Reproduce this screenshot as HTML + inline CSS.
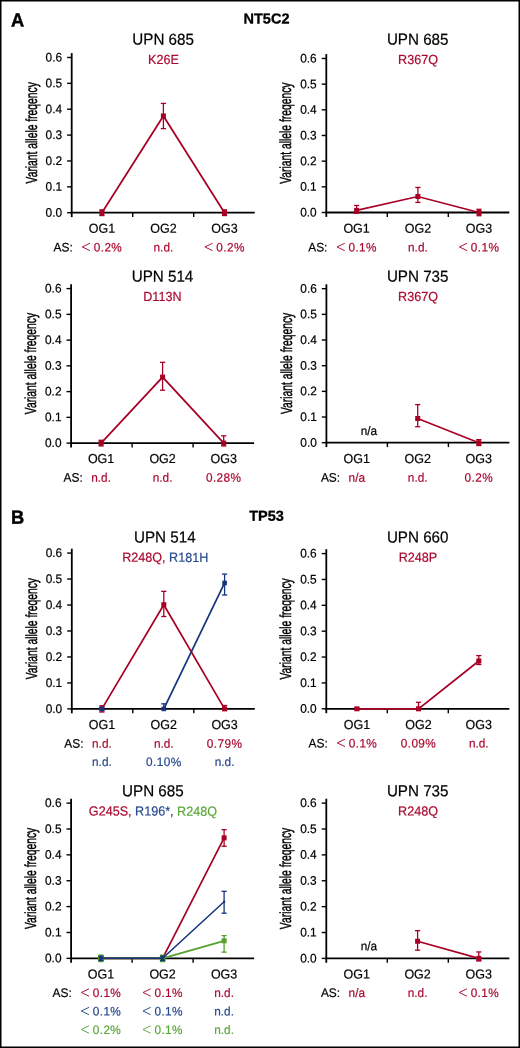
<!DOCTYPE html>
<html><head><meta charset="utf-8"><style>
html,body{margin:0;padding:0;background:#fff;}
body{width:520px;height:1048px;overflow:hidden;}
svg{display:block;font-family:"Liberation Sans", sans-serif;will-change:transform;text-rendering:geometricPrecision;}
</style></head><body>
<svg width="520" height="1048" viewBox="0 0 520 1048">
<rect x="0.75" y="0.75" width="518.5" height="1046.5" fill="#fff" stroke="#000" stroke-width="1.5"/>
<line x1="71.70" y1="53.08" x2="71.70" y2="217.10" stroke="#000" stroke-width="1.8" stroke-linecap="butt"/>
<line x1="67.10" y1="212.70" x2="71.70" y2="212.70" stroke="#000" stroke-width="1.4" stroke-linecap="butt"/>
<text transform="translate(62.10 216.70) rotate(0.08) scale(1 1.045)" font-size="11.9" text-anchor="end" fill="#000" font-weight="normal"  stroke="#000" stroke-width="0.2">0.0</text>
<line x1="67.10" y1="186.83" x2="71.70" y2="186.83" stroke="#000" stroke-width="1.4" stroke-linecap="butt"/>
<text transform="translate(62.10 190.83) rotate(0.08) scale(1 1.045)" font-size="11.9" text-anchor="end" fill="#000" font-weight="normal"  stroke="#000" stroke-width="0.2">0.1</text>
<line x1="67.10" y1="160.96" x2="71.70" y2="160.96" stroke="#000" stroke-width="1.4" stroke-linecap="butt"/>
<text transform="translate(62.10 164.96) rotate(0.08) scale(1 1.045)" font-size="11.9" text-anchor="end" fill="#000" font-weight="normal"  stroke="#000" stroke-width="0.2">0.2</text>
<line x1="67.10" y1="135.09" x2="71.70" y2="135.09" stroke="#000" stroke-width="1.4" stroke-linecap="butt"/>
<text transform="translate(62.10 139.09) rotate(0.08) scale(1 1.045)" font-size="11.9" text-anchor="end" fill="#000" font-weight="normal"  stroke="#000" stroke-width="0.2">0.3</text>
<line x1="67.10" y1="109.22" x2="71.70" y2="109.22" stroke="#000" stroke-width="1.4" stroke-linecap="butt"/>
<text transform="translate(62.10 113.22) rotate(0.08) scale(1 1.045)" font-size="11.9" text-anchor="end" fill="#000" font-weight="normal"  stroke="#000" stroke-width="0.2">0.4</text>
<line x1="67.10" y1="83.35" x2="71.70" y2="83.35" stroke="#000" stroke-width="1.4" stroke-linecap="butt"/>
<text transform="translate(62.10 87.35) rotate(0.08) scale(1 1.045)" font-size="11.9" text-anchor="end" fill="#000" font-weight="normal"  stroke="#000" stroke-width="0.2">0.5</text>
<line x1="67.10" y1="57.48" x2="71.70" y2="57.48" stroke="#000" stroke-width="1.4" stroke-linecap="butt"/>
<text transform="translate(62.10 61.48) rotate(0.08) scale(1 1.045)" font-size="11.9" text-anchor="end" fill="#000" font-weight="normal"  stroke="#000" stroke-width="0.2">0.6</text>
<line x1="70.80" y1="212.70" x2="254.70" y2="212.70" stroke="#000" stroke-width="1.8" stroke-linecap="butt"/>
<line x1="132.70" y1="212.70" x2="132.70" y2="217.10" stroke="#000" stroke-width="1.4" stroke-linecap="butt"/>
<line x1="193.70" y1="212.70" x2="193.70" y2="217.10" stroke="#000" stroke-width="1.4" stroke-linecap="butt"/>
<text transform="translate(36.80,132.79) rotate(-90) scale(0.645,1)" font-size="16" text-anchor="middle" stroke="#000" stroke-width="0.45">Variant allele freqency</text>
<text transform="translate(101.90 232.80) rotate(0.08) scale(1 1.045)" font-size="12.5" text-anchor="middle" fill="#000" font-weight="normal"  stroke="#000" stroke-width="0.2">OG1</text>
<text transform="translate(163.40 232.80) rotate(0.08) scale(1 1.045)" font-size="12.5" text-anchor="middle" fill="#000" font-weight="normal"  stroke="#000" stroke-width="0.2">OG2</text>
<text transform="translate(224.50 232.80) rotate(0.08) scale(1 1.045)" font-size="12.5" text-anchor="middle" fill="#000" font-weight="normal"  stroke="#000" stroke-width="0.2">OG3</text>
<text transform="translate(163.10 44.65) rotate(0.08) scale(1 1.045)" font-size="15.2" text-anchor="middle" fill="#000" font-weight="normal"  stroke="#000" stroke-width="0.2">UPN 685</text>
<text transform="translate(163.40 64.10) rotate(0.08) scale(1 1.045)" font-size="12.6" text-anchor="middle" fill="#000" font-weight="normal" stroke-width="0.2"><tspan fill="#ab0a30" stroke="#ab0a30">K26E</tspan></text>
<polyline points="101.90,212.70 163.40,115.95 224.50,212.70" fill="none" stroke="#a80024" stroke-width="1.7"/>
<line x1="101.90" y1="215.55" x2="101.90" y2="209.85" stroke="#a80024" stroke-width="1.3" stroke-linecap="butt"/>
<line x1="99.30" y1="215.55" x2="104.50" y2="215.55" stroke="#a80024" stroke-width="1.3" stroke-linecap="butt"/>
<line x1="99.30" y1="209.85" x2="104.50" y2="209.85" stroke="#a80024" stroke-width="1.3" stroke-linecap="butt"/>
<rect x="99.40" y="210.20" width="5" height="5" fill="#a80024"/>
<line x1="163.40" y1="128.62" x2="163.40" y2="103.40" stroke="#a80024" stroke-width="1.3" stroke-linecap="butt"/>
<line x1="160.80" y1="128.62" x2="166.00" y2="128.62" stroke="#a80024" stroke-width="1.3" stroke-linecap="butt"/>
<line x1="160.80" y1="103.40" x2="166.00" y2="103.40" stroke="#a80024" stroke-width="1.3" stroke-linecap="butt"/>
<rect x="160.90" y="113.45" width="5" height="5" fill="#a80024"/>
<line x1="224.50" y1="215.55" x2="224.50" y2="209.85" stroke="#a80024" stroke-width="1.3" stroke-linecap="butt"/>
<line x1="221.90" y1="215.55" x2="227.10" y2="215.55" stroke="#a80024" stroke-width="1.3" stroke-linecap="butt"/>
<line x1="221.90" y1="209.85" x2="227.10" y2="209.85" stroke="#a80024" stroke-width="1.3" stroke-linecap="butt"/>
<rect x="222.00" y="210.20" width="5" height="5" fill="#a80024"/>
<polyline points="90.00,243.25 82.30,246.95 90.00,250.65" fill="none" stroke="#ab0a30" stroke-width="0.95" stroke-linejoin="round"/>
<text x="82.30" y="251.55" font-size="11.8" fill="none">&lt;</text>
<text transform="translate(93.74 251.55) rotate(0.08) scale(1 1.045)" font-size="11.8" text-anchor="start" fill="#ab0a30" font-weight="normal" letter-spacing="0.4" stroke="#ab0a30" stroke-width="0.2">0.2%</text>
<text transform="translate(163.40 251.55) rotate(0.08) scale(1 1.045)" font-size="11.8" text-anchor="middle" fill="#ab0a30" font-weight="normal"  stroke="#ab0a30" stroke-width="0.2">n.d.</text>
<polyline points="212.60,243.25 204.90,246.95 212.60,250.65" fill="none" stroke="#ab0a30" stroke-width="0.95" stroke-linejoin="round"/>
<text x="204.90" y="251.55" font-size="11.8" fill="none">&lt;</text>
<text transform="translate(216.34 251.55) rotate(0.08) scale(1 1.045)" font-size="11.8" text-anchor="start" fill="#ab0a30" font-weight="normal" letter-spacing="0.4" stroke="#ab0a30" stroke-width="0.2">0.2%</text>
<text transform="translate(72.69 251.55) rotate(0.08) scale(1 1.045)" font-size="11.9" text-anchor="end" fill="#000" font-weight="normal"  stroke="#000" stroke-width="0.2">AS:</text>
<line x1="326.30" y1="54.08" x2="326.30" y2="216.90" stroke="#000" stroke-width="1.8" stroke-linecap="butt"/>
<line x1="321.70" y1="212.50" x2="326.30" y2="212.50" stroke="#000" stroke-width="1.4" stroke-linecap="butt"/>
<text transform="translate(316.70 216.50) rotate(0.08) scale(1 1.045)" font-size="11.9" text-anchor="end" fill="#000" font-weight="normal"  stroke="#000" stroke-width="0.2">0.0</text>
<line x1="321.70" y1="186.83" x2="326.30" y2="186.83" stroke="#000" stroke-width="1.4" stroke-linecap="butt"/>
<text transform="translate(316.70 190.83) rotate(0.08) scale(1 1.045)" font-size="11.9" text-anchor="end" fill="#000" font-weight="normal"  stroke="#000" stroke-width="0.2">0.1</text>
<line x1="321.70" y1="161.16" x2="326.30" y2="161.16" stroke="#000" stroke-width="1.4" stroke-linecap="butt"/>
<text transform="translate(316.70 165.16) rotate(0.08) scale(1 1.045)" font-size="11.9" text-anchor="end" fill="#000" font-weight="normal"  stroke="#000" stroke-width="0.2">0.2</text>
<line x1="321.70" y1="135.49" x2="326.30" y2="135.49" stroke="#000" stroke-width="1.4" stroke-linecap="butt"/>
<text transform="translate(316.70 139.49) rotate(0.08) scale(1 1.045)" font-size="11.9" text-anchor="end" fill="#000" font-weight="normal"  stroke="#000" stroke-width="0.2">0.3</text>
<line x1="321.70" y1="109.82" x2="326.30" y2="109.82" stroke="#000" stroke-width="1.4" stroke-linecap="butt"/>
<text transform="translate(316.70 113.82) rotate(0.08) scale(1 1.045)" font-size="11.9" text-anchor="end" fill="#000" font-weight="normal"  stroke="#000" stroke-width="0.2">0.4</text>
<line x1="321.70" y1="84.15" x2="326.30" y2="84.15" stroke="#000" stroke-width="1.4" stroke-linecap="butt"/>
<text transform="translate(316.70 88.15) rotate(0.08) scale(1 1.045)" font-size="11.9" text-anchor="end" fill="#000" font-weight="normal"  stroke="#000" stroke-width="0.2">0.5</text>
<line x1="321.70" y1="58.48" x2="326.30" y2="58.48" stroke="#000" stroke-width="1.4" stroke-linecap="butt"/>
<text transform="translate(316.70 62.48) rotate(0.08) scale(1 1.045)" font-size="11.9" text-anchor="end" fill="#000" font-weight="normal"  stroke="#000" stroke-width="0.2">0.6</text>
<line x1="325.40" y1="212.50" x2="509.30" y2="212.50" stroke="#000" stroke-width="1.8" stroke-linecap="butt"/>
<line x1="387.30" y1="212.50" x2="387.30" y2="216.90" stroke="#000" stroke-width="1.4" stroke-linecap="butt"/>
<line x1="448.30" y1="212.50" x2="448.30" y2="216.90" stroke="#000" stroke-width="1.4" stroke-linecap="butt"/>
<text transform="translate(291.40,133.19) rotate(-90) scale(0.645,1)" font-size="16" text-anchor="middle" stroke="#000" stroke-width="0.45">Variant allele freqency</text>
<text transform="translate(356.60 232.80) rotate(0.08) scale(1 1.045)" font-size="12.5" text-anchor="middle" fill="#000" font-weight="normal"  stroke="#000" stroke-width="0.2">OG1</text>
<text transform="translate(417.90 232.80) rotate(0.08) scale(1 1.045)" font-size="12.5" text-anchor="middle" fill="#000" font-weight="normal"  stroke="#000" stroke-width="0.2">OG2</text>
<text transform="translate(479.00 232.80) rotate(0.08) scale(1 1.045)" font-size="12.5" text-anchor="middle" fill="#000" font-weight="normal"  stroke="#000" stroke-width="0.2">OG3</text>
<text transform="translate(417.70 44.65) rotate(0.08) scale(1 1.045)" font-size="15.2" text-anchor="middle" fill="#000" font-weight="normal"  stroke="#000" stroke-width="0.2">UPN 685</text>
<text transform="translate(418.00 64.10) rotate(0.08) scale(1 1.045)" font-size="12.6" text-anchor="middle" fill="#000" font-weight="normal" stroke-width="0.2"><tspan fill="#ab0a30" stroke="#ab0a30">R367Q</tspan></text>
<polyline points="356.60,210.40 417.90,196.51 479.00,212.50" fill="none" stroke="#a80024" stroke-width="1.7"/>
<line x1="356.60" y1="213.27" x2="356.60" y2="205.49" stroke="#a80024" stroke-width="1.3" stroke-linecap="butt"/>
<line x1="354.00" y1="213.27" x2="359.20" y2="213.27" stroke="#a80024" stroke-width="1.3" stroke-linecap="butt"/>
<line x1="354.00" y1="205.49" x2="359.20" y2="205.49" stroke="#a80024" stroke-width="1.3" stroke-linecap="butt"/>
<rect x="354.10" y="207.90" width="5" height="5" fill="#a80024"/>
<line x1="417.90" y1="202.41" x2="417.90" y2="187.45" stroke="#a80024" stroke-width="1.3" stroke-linecap="butt"/>
<line x1="415.30" y1="202.41" x2="420.50" y2="202.41" stroke="#a80024" stroke-width="1.3" stroke-linecap="butt"/>
<line x1="415.30" y1="187.45" x2="420.50" y2="187.45" stroke="#a80024" stroke-width="1.3" stroke-linecap="butt"/>
<rect x="415.40" y="194.01" width="5" height="5" fill="#a80024"/>
<line x1="479.00" y1="215.71" x2="479.00" y2="209.29" stroke="#a80024" stroke-width="1.3" stroke-linecap="butt"/>
<line x1="476.40" y1="215.71" x2="481.60" y2="215.71" stroke="#a80024" stroke-width="1.3" stroke-linecap="butt"/>
<line x1="476.40" y1="209.29" x2="481.60" y2="209.29" stroke="#a80024" stroke-width="1.3" stroke-linecap="butt"/>
<rect x="476.50" y="210.00" width="5" height="5" fill="#a80024"/>
<polyline points="344.70,243.25 337.00,246.95 344.70,250.65" fill="none" stroke="#ab0a30" stroke-width="0.95" stroke-linejoin="round"/>
<text x="337.00" y="251.55" font-size="11.8" fill="none">&lt;</text>
<text transform="translate(348.44 251.55) rotate(0.08) scale(1 1.045)" font-size="11.8" text-anchor="start" fill="#ab0a30" font-weight="normal" letter-spacing="0.4" stroke="#ab0a30" stroke-width="0.2">0.1%</text>
<text transform="translate(417.90 251.55) rotate(0.08) scale(1 1.045)" font-size="11.8" text-anchor="middle" fill="#ab0a30" font-weight="normal"  stroke="#ab0a30" stroke-width="0.2">n.d.</text>
<polyline points="467.10,243.25 459.40,246.95 467.10,250.65" fill="none" stroke="#ab0a30" stroke-width="0.95" stroke-linejoin="round"/>
<text x="459.40" y="251.55" font-size="11.8" fill="none">&lt;</text>
<text transform="translate(470.84 251.55) rotate(0.08) scale(1 1.045)" font-size="11.8" text-anchor="start" fill="#ab0a30" font-weight="normal" letter-spacing="0.4" stroke="#ab0a30" stroke-width="0.2">0.1%</text>
<text transform="translate(327.39 251.55) rotate(0.08) scale(1 1.045)" font-size="11.9" text-anchor="end" fill="#000" font-weight="normal"  stroke="#000" stroke-width="0.2">AS:</text>
<line x1="71.10" y1="284.20" x2="71.10" y2="447.50" stroke="#000" stroke-width="1.8" stroke-linecap="butt"/>
<line x1="66.50" y1="443.10" x2="71.10" y2="443.10" stroke="#000" stroke-width="1.4" stroke-linecap="butt"/>
<text transform="translate(61.50 447.10) rotate(0.08) scale(1 1.045)" font-size="11.9" text-anchor="end" fill="#000" font-weight="normal"  stroke="#000" stroke-width="0.2">0.0</text>
<line x1="66.50" y1="417.35" x2="71.10" y2="417.35" stroke="#000" stroke-width="1.4" stroke-linecap="butt"/>
<text transform="translate(61.50 421.35) rotate(0.08) scale(1 1.045)" font-size="11.9" text-anchor="end" fill="#000" font-weight="normal"  stroke="#000" stroke-width="0.2">0.1</text>
<line x1="66.50" y1="391.60" x2="71.10" y2="391.60" stroke="#000" stroke-width="1.4" stroke-linecap="butt"/>
<text transform="translate(61.50 395.60) rotate(0.08) scale(1 1.045)" font-size="11.9" text-anchor="end" fill="#000" font-weight="normal"  stroke="#000" stroke-width="0.2">0.2</text>
<line x1="66.50" y1="365.85" x2="71.10" y2="365.85" stroke="#000" stroke-width="1.4" stroke-linecap="butt"/>
<text transform="translate(61.50 369.85) rotate(0.08) scale(1 1.045)" font-size="11.9" text-anchor="end" fill="#000" font-weight="normal"  stroke="#000" stroke-width="0.2">0.3</text>
<line x1="66.50" y1="340.10" x2="71.10" y2="340.10" stroke="#000" stroke-width="1.4" stroke-linecap="butt"/>
<text transform="translate(61.50 344.10) rotate(0.08) scale(1 1.045)" font-size="11.9" text-anchor="end" fill="#000" font-weight="normal"  stroke="#000" stroke-width="0.2">0.4</text>
<line x1="66.50" y1="314.35" x2="71.10" y2="314.35" stroke="#000" stroke-width="1.4" stroke-linecap="butt"/>
<text transform="translate(61.50 318.35) rotate(0.08) scale(1 1.045)" font-size="11.9" text-anchor="end" fill="#000" font-weight="normal"  stroke="#000" stroke-width="0.2">0.5</text>
<line x1="66.50" y1="288.60" x2="71.10" y2="288.60" stroke="#000" stroke-width="1.4" stroke-linecap="butt"/>
<text transform="translate(61.50 292.60) rotate(0.08) scale(1 1.045)" font-size="11.9" text-anchor="end" fill="#000" font-weight="normal"  stroke="#000" stroke-width="0.2">0.6</text>
<line x1="70.20" y1="443.10" x2="254.10" y2="443.10" stroke="#000" stroke-width="1.8" stroke-linecap="butt"/>
<line x1="132.10" y1="443.10" x2="132.10" y2="447.50" stroke="#000" stroke-width="1.4" stroke-linecap="butt"/>
<line x1="193.10" y1="443.10" x2="193.10" y2="447.50" stroke="#000" stroke-width="1.4" stroke-linecap="butt"/>
<text transform="translate(36.20,363.55) rotate(-90) scale(0.645,1)" font-size="16" text-anchor="middle" stroke="#000" stroke-width="0.45">Variant allele freqency</text>
<text transform="translate(101.10 462.90) rotate(0.08) scale(1 1.045)" font-size="12.5" text-anchor="middle" fill="#000" font-weight="normal"  stroke="#000" stroke-width="0.2">OG1</text>
<text transform="translate(162.60 462.90) rotate(0.08) scale(1 1.045)" font-size="12.5" text-anchor="middle" fill="#000" font-weight="normal"  stroke="#000" stroke-width="0.2">OG2</text>
<text transform="translate(223.70 462.90) rotate(0.08) scale(1 1.045)" font-size="12.5" text-anchor="middle" fill="#000" font-weight="normal"  stroke="#000" stroke-width="0.2">OG3</text>
<text transform="translate(162.50 281.65) rotate(0.08) scale(1 1.045)" font-size="15.2" text-anchor="middle" fill="#000" font-weight="normal"  stroke="#000" stroke-width="0.2">UPN 514</text>
<text transform="translate(162.40 301.00) rotate(0.08) scale(1 1.045)" font-size="12.6" text-anchor="middle" fill="#000" font-weight="normal" stroke-width="0.2"><tspan fill="#ab0a30" stroke="#ab0a30">D113N</tspan></text>
<polyline points="101.10,443.10 162.60,377.10 223.70,443.10" fill="none" stroke="#a80024" stroke-width="1.7"/>
<line x1="101.10" y1="445.93" x2="101.10" y2="440.27" stroke="#a80024" stroke-width="1.3" stroke-linecap="butt"/>
<line x1="98.50" y1="445.93" x2="103.70" y2="445.93" stroke="#a80024" stroke-width="1.3" stroke-linecap="butt"/>
<line x1="98.50" y1="440.27" x2="103.70" y2="440.27" stroke="#a80024" stroke-width="1.3" stroke-linecap="butt"/>
<rect x="98.60" y="440.60" width="5" height="5" fill="#a80024"/>
<line x1="162.60" y1="390.21" x2="162.60" y2="362.30" stroke="#a80024" stroke-width="1.3" stroke-linecap="butt"/>
<line x1="160.00" y1="390.21" x2="165.20" y2="390.21" stroke="#a80024" stroke-width="1.3" stroke-linecap="butt"/>
<line x1="160.00" y1="362.30" x2="165.20" y2="362.30" stroke="#a80024" stroke-width="1.3" stroke-linecap="butt"/>
<rect x="160.10" y="374.60" width="5" height="5" fill="#a80024"/>
<line x1="223.70" y1="445.93" x2="223.70" y2="435.81" stroke="#a80024" stroke-width="1.3" stroke-linecap="butt"/>
<line x1="221.10" y1="445.93" x2="226.30" y2="445.93" stroke="#a80024" stroke-width="1.3" stroke-linecap="butt"/>
<line x1="221.10" y1="435.81" x2="226.30" y2="435.81" stroke="#a80024" stroke-width="1.3" stroke-linecap="butt"/>
<rect x="221.20" y="440.60" width="5" height="5" fill="#a80024"/>
<text transform="translate(101.10 481.80) rotate(0.08) scale(1 1.045)" font-size="11.8" text-anchor="middle" fill="#ab0a30" font-weight="normal"  stroke="#ab0a30" stroke-width="0.2">n.d.</text>
<text transform="translate(162.60 481.80) rotate(0.08) scale(1 1.045)" font-size="11.8" text-anchor="middle" fill="#ab0a30" font-weight="normal"  stroke="#ab0a30" stroke-width="0.2">n.d.</text>
<text transform="translate(205.97 481.80) rotate(0.08) scale(1 1.045)" font-size="11.8" text-anchor="start" fill="#ab0a30" font-weight="normal" letter-spacing="0.4" stroke="#ab0a30" stroke-width="0.2">0.28%</text>
<text transform="translate(82.73 481.80) rotate(0.08) scale(1 1.045)" font-size="11.9" text-anchor="end" fill="#000" font-weight="normal"  stroke="#000" stroke-width="0.2">AS:</text>
<line x1="326.40" y1="284.28" x2="326.40" y2="447.10" stroke="#000" stroke-width="1.8" stroke-linecap="butt"/>
<line x1="321.80" y1="442.70" x2="326.40" y2="442.70" stroke="#000" stroke-width="1.4" stroke-linecap="butt"/>
<text transform="translate(316.80 446.70) rotate(0.08) scale(1 1.045)" font-size="11.9" text-anchor="end" fill="#000" font-weight="normal"  stroke="#000" stroke-width="0.2">0.0</text>
<line x1="321.80" y1="417.03" x2="326.40" y2="417.03" stroke="#000" stroke-width="1.4" stroke-linecap="butt"/>
<text transform="translate(316.80 421.03) rotate(0.08) scale(1 1.045)" font-size="11.9" text-anchor="end" fill="#000" font-weight="normal"  stroke="#000" stroke-width="0.2">0.1</text>
<line x1="321.80" y1="391.36" x2="326.40" y2="391.36" stroke="#000" stroke-width="1.4" stroke-linecap="butt"/>
<text transform="translate(316.80 395.36) rotate(0.08) scale(1 1.045)" font-size="11.9" text-anchor="end" fill="#000" font-weight="normal"  stroke="#000" stroke-width="0.2">0.2</text>
<line x1="321.80" y1="365.69" x2="326.40" y2="365.69" stroke="#000" stroke-width="1.4" stroke-linecap="butt"/>
<text transform="translate(316.80 369.69) rotate(0.08) scale(1 1.045)" font-size="11.9" text-anchor="end" fill="#000" font-weight="normal"  stroke="#000" stroke-width="0.2">0.3</text>
<line x1="321.80" y1="340.02" x2="326.40" y2="340.02" stroke="#000" stroke-width="1.4" stroke-linecap="butt"/>
<text transform="translate(316.80 344.02) rotate(0.08) scale(1 1.045)" font-size="11.9" text-anchor="end" fill="#000" font-weight="normal"  stroke="#000" stroke-width="0.2">0.4</text>
<line x1="321.80" y1="314.35" x2="326.40" y2="314.35" stroke="#000" stroke-width="1.4" stroke-linecap="butt"/>
<text transform="translate(316.80 318.35) rotate(0.08) scale(1 1.045)" font-size="11.9" text-anchor="end" fill="#000" font-weight="normal"  stroke="#000" stroke-width="0.2">0.5</text>
<line x1="321.80" y1="288.68" x2="326.40" y2="288.68" stroke="#000" stroke-width="1.4" stroke-linecap="butt"/>
<text transform="translate(316.80 292.68) rotate(0.08) scale(1 1.045)" font-size="11.9" text-anchor="end" fill="#000" font-weight="normal"  stroke="#000" stroke-width="0.2">0.6</text>
<line x1="325.50" y1="442.70" x2="509.40" y2="442.70" stroke="#000" stroke-width="1.8" stroke-linecap="butt"/>
<line x1="387.40" y1="442.70" x2="387.40" y2="447.10" stroke="#000" stroke-width="1.4" stroke-linecap="butt"/>
<line x1="448.40" y1="442.70" x2="448.40" y2="447.10" stroke="#000" stroke-width="1.4" stroke-linecap="butt"/>
<text transform="translate(291.50,363.39) rotate(-90) scale(0.645,1)" font-size="16" text-anchor="middle" stroke="#000" stroke-width="0.45">Variant allele freqency</text>
<text transform="translate(356.80 462.90) rotate(0.08) scale(1 1.045)" font-size="12.5" text-anchor="middle" fill="#000" font-weight="normal"  stroke="#000" stroke-width="0.2">OG1</text>
<text transform="translate(417.70 462.90) rotate(0.08) scale(1 1.045)" font-size="12.5" text-anchor="middle" fill="#000" font-weight="normal"  stroke="#000" stroke-width="0.2">OG2</text>
<text transform="translate(478.80 462.90) rotate(0.08) scale(1 1.045)" font-size="12.5" text-anchor="middle" fill="#000" font-weight="normal"  stroke="#000" stroke-width="0.2">OG3</text>
<text transform="translate(417.70 281.65) rotate(0.08) scale(1 1.045)" font-size="15.2" text-anchor="middle" fill="#000" font-weight="normal"  stroke="#000" stroke-width="0.2">UPN 735</text>
<text transform="translate(418.00 301.00) rotate(0.08) scale(1 1.045)" font-size="12.6" text-anchor="middle" fill="#000" font-weight="normal" stroke-width="0.2"><tspan fill="#ab0a30" stroke="#ab0a30">R367Q</tspan></text>
<polyline points="417.70,418.49 478.80,442.70" fill="none" stroke="#a80024" stroke-width="1.7"/>
<line x1="417.70" y1="426.71" x2="417.70" y2="404.61" stroke="#a80024" stroke-width="1.3" stroke-linecap="butt"/>
<line x1="415.10" y1="426.71" x2="420.30" y2="426.71" stroke="#a80024" stroke-width="1.3" stroke-linecap="butt"/>
<line x1="415.10" y1="404.61" x2="420.30" y2="404.61" stroke="#a80024" stroke-width="1.3" stroke-linecap="butt"/>
<rect x="415.20" y="415.99" width="5" height="5" fill="#a80024"/>
<line x1="478.80" y1="445.52" x2="478.80" y2="439.59" stroke="#a80024" stroke-width="1.3" stroke-linecap="butt"/>
<line x1="476.20" y1="445.52" x2="481.40" y2="445.52" stroke="#a80024" stroke-width="1.3" stroke-linecap="butt"/>
<line x1="476.20" y1="439.59" x2="481.40" y2="439.59" stroke="#a80024" stroke-width="1.3" stroke-linecap="butt"/>
<rect x="476.30" y="440.20" width="5" height="5" fill="#a80024"/>
<text transform="translate(368.90 435.00) rotate(0.08) scale(1 1.045)" font-size="11.8" text-anchor="middle" fill="#000" font-weight="normal"  stroke="#000" stroke-width="0.2">n/a</text>
<text transform="translate(356.80 481.80) rotate(0.08) scale(1 1.045)" font-size="11.8" text-anchor="middle" fill="#ab0a30" font-weight="normal"  stroke="#ab0a30" stroke-width="0.2">n/a</text>
<text transform="translate(417.70 481.80) rotate(0.08) scale(1 1.045)" font-size="11.8" text-anchor="middle" fill="#ab0a30" font-weight="normal"  stroke="#ab0a30" stroke-width="0.2">n.d.</text>
<text transform="translate(464.55 481.80) rotate(0.08) scale(1 1.045)" font-size="11.8" text-anchor="start" fill="#ab0a30" font-weight="normal" letter-spacing="0.4" stroke="#ab0a30" stroke-width="0.2">0.2%</text>
<text transform="translate(340.07 481.80) rotate(0.08) scale(1 1.045)" font-size="11.9" text-anchor="end" fill="#000" font-weight="normal"  stroke="#000" stroke-width="0.2">AS:</text>
<line x1="71.80" y1="548.68" x2="71.80" y2="713.30" stroke="#000" stroke-width="1.8" stroke-linecap="butt"/>
<line x1="67.20" y1="708.90" x2="71.80" y2="708.90" stroke="#000" stroke-width="1.4" stroke-linecap="butt"/>
<text transform="translate(62.20 712.90) rotate(0.08) scale(1 1.045)" font-size="11.9" text-anchor="end" fill="#000" font-weight="normal"  stroke="#000" stroke-width="0.2">0.0</text>
<line x1="67.20" y1="682.93" x2="71.80" y2="682.93" stroke="#000" stroke-width="1.4" stroke-linecap="butt"/>
<text transform="translate(62.20 686.93) rotate(0.08) scale(1 1.045)" font-size="11.9" text-anchor="end" fill="#000" font-weight="normal"  stroke="#000" stroke-width="0.2">0.1</text>
<line x1="67.20" y1="656.96" x2="71.80" y2="656.96" stroke="#000" stroke-width="1.4" stroke-linecap="butt"/>
<text transform="translate(62.20 660.96) rotate(0.08) scale(1 1.045)" font-size="11.9" text-anchor="end" fill="#000" font-weight="normal"  stroke="#000" stroke-width="0.2">0.2</text>
<line x1="67.20" y1="630.99" x2="71.80" y2="630.99" stroke="#000" stroke-width="1.4" stroke-linecap="butt"/>
<text transform="translate(62.20 634.99) rotate(0.08) scale(1 1.045)" font-size="11.9" text-anchor="end" fill="#000" font-weight="normal"  stroke="#000" stroke-width="0.2">0.3</text>
<line x1="67.20" y1="605.02" x2="71.80" y2="605.02" stroke="#000" stroke-width="1.4" stroke-linecap="butt"/>
<text transform="translate(62.20 609.02) rotate(0.08) scale(1 1.045)" font-size="11.9" text-anchor="end" fill="#000" font-weight="normal"  stroke="#000" stroke-width="0.2">0.4</text>
<line x1="67.20" y1="579.05" x2="71.80" y2="579.05" stroke="#000" stroke-width="1.4" stroke-linecap="butt"/>
<text transform="translate(62.20 583.05) rotate(0.08) scale(1 1.045)" font-size="11.9" text-anchor="end" fill="#000" font-weight="normal"  stroke="#000" stroke-width="0.2">0.5</text>
<line x1="67.20" y1="553.08" x2="71.80" y2="553.08" stroke="#000" stroke-width="1.4" stroke-linecap="butt"/>
<text transform="translate(62.20 557.08) rotate(0.08) scale(1 1.045)" font-size="11.9" text-anchor="end" fill="#000" font-weight="normal"  stroke="#000" stroke-width="0.2">0.6</text>
<line x1="70.90" y1="708.90" x2="254.80" y2="708.90" stroke="#000" stroke-width="1.8" stroke-linecap="butt"/>
<line x1="132.80" y1="708.90" x2="132.80" y2="713.30" stroke="#000" stroke-width="1.4" stroke-linecap="butt"/>
<line x1="193.80" y1="708.90" x2="193.80" y2="713.30" stroke="#000" stroke-width="1.4" stroke-linecap="butt"/>
<text transform="translate(36.90,628.69) rotate(-90) scale(0.645,1)" font-size="16" text-anchor="middle" stroke="#000" stroke-width="0.45">Variant allele freqency</text>
<text transform="translate(101.90 729.05) rotate(0.08) scale(1 1.045)" font-size="12.5" text-anchor="middle" fill="#000" font-weight="normal"  stroke="#000" stroke-width="0.2">OG1</text>
<text transform="translate(163.80 729.05) rotate(0.08) scale(1 1.045)" font-size="12.5" text-anchor="middle" fill="#000" font-weight="normal"  stroke="#000" stroke-width="0.2">OG2</text>
<text transform="translate(224.60 729.05) rotate(0.08) scale(1 1.045)" font-size="12.5" text-anchor="middle" fill="#000" font-weight="normal"  stroke="#000" stroke-width="0.2">OG3</text>
<text transform="translate(164.80 542.50) rotate(0.08) scale(1 1.045)" font-size="15.2" text-anchor="middle" fill="#000" font-weight="normal"  stroke="#000" stroke-width="0.2">UPN 514</text>
<text transform="translate(165.20 561.85) rotate(0.08) scale(1 1.045)" font-size="12.6" text-anchor="middle" fill="#000" font-weight="normal" stroke-width="0.2"><tspan fill="#ab0a30" stroke="#ab0a30">R248Q,</tspan><tspan fill="#284a8c" stroke="#284a8c"> R181H</tspan></text>
<polyline points="101.90,708.90 163.80,604.71 224.60,708.90" fill="none" stroke="#a80024" stroke-width="1.7"/>
<line x1="101.90" y1="712.02" x2="101.90" y2="705.78" stroke="#a80024" stroke-width="1.3" stroke-linecap="butt"/>
<line x1="99.30" y1="712.02" x2="104.50" y2="712.02" stroke="#a80024" stroke-width="1.3" stroke-linecap="butt"/>
<line x1="99.30" y1="705.78" x2="104.50" y2="705.78" stroke="#a80024" stroke-width="1.3" stroke-linecap="butt"/>
<rect x="99.40" y="706.40" width="5" height="5" fill="#a80024"/>
<line x1="163.80" y1="616.50" x2="163.80" y2="591.33" stroke="#a80024" stroke-width="1.3" stroke-linecap="butt"/>
<line x1="161.20" y1="616.50" x2="166.40" y2="616.50" stroke="#a80024" stroke-width="1.3" stroke-linecap="butt"/>
<line x1="161.20" y1="591.33" x2="166.40" y2="591.33" stroke="#a80024" stroke-width="1.3" stroke-linecap="butt"/>
<rect x="161.30" y="602.21" width="5" height="5" fill="#a80024"/>
<line x1="224.60" y1="710.20" x2="224.60" y2="705.52" stroke="#a80024" stroke-width="1.3" stroke-linecap="butt"/>
<line x1="222.00" y1="710.20" x2="227.20" y2="710.20" stroke="#a80024" stroke-width="1.3" stroke-linecap="butt"/>
<line x1="222.00" y1="705.52" x2="227.20" y2="705.52" stroke="#a80024" stroke-width="1.3" stroke-linecap="butt"/>
<rect x="222.10" y="706.40" width="5" height="5" fill="#a80024"/>
<polyline points="163.80,708.90 224.60,582.95" fill="none" stroke="#15347c" stroke-width="1.7"/>
<line x1="101.90" y1="709.94" x2="101.90" y2="707.86" stroke="#15347c" stroke-width="1.3" stroke-linecap="butt"/>
<line x1="99.30" y1="709.94" x2="104.50" y2="709.94" stroke="#15347c" stroke-width="1.3" stroke-linecap="butt"/>
<line x1="99.30" y1="707.86" x2="104.50" y2="707.86" stroke="#15347c" stroke-width="1.3" stroke-linecap="butt"/>
<rect x="99.60" y="706.60" width="4.6" height="4.6" fill="#15347c"/>
<line x1="163.80" y1="709.16" x2="163.80" y2="703.84" stroke="#15347c" stroke-width="1.3" stroke-linecap="butt"/>
<line x1="161.20" y1="709.16" x2="166.40" y2="709.16" stroke="#15347c" stroke-width="1.3" stroke-linecap="butt"/>
<line x1="161.20" y1="703.84" x2="166.40" y2="703.84" stroke="#15347c" stroke-width="1.3" stroke-linecap="butt"/>
<rect x="161.50" y="706.60" width="4.6" height="4.6" fill="#15347c"/>
<line x1="224.60" y1="595.02" x2="224.60" y2="574.12" stroke="#15347c" stroke-width="1.3" stroke-linecap="butt"/>
<line x1="222.00" y1="595.02" x2="227.20" y2="595.02" stroke="#15347c" stroke-width="1.3" stroke-linecap="butt"/>
<line x1="222.00" y1="574.12" x2="227.20" y2="574.12" stroke="#15347c" stroke-width="1.3" stroke-linecap="butt"/>
<rect x="222.30" y="580.65" width="4.6" height="4.6" fill="#15347c"/>
<text transform="translate(101.90 747.80) rotate(0.08) scale(1 1.045)" font-size="11.8" text-anchor="middle" fill="#ab0a30" font-weight="normal"  stroke="#ab0a30" stroke-width="0.2">n.d.</text>
<text transform="translate(163.80 747.80) rotate(0.08) scale(1 1.045)" font-size="11.8" text-anchor="middle" fill="#ab0a30" font-weight="normal"  stroke="#ab0a30" stroke-width="0.2">n.d.</text>
<text transform="translate(206.87 747.80) rotate(0.08) scale(1 1.045)" font-size="11.8" text-anchor="start" fill="#ab0a30" font-weight="normal" letter-spacing="0.4" stroke="#ab0a30" stroke-width="0.2">0.79%</text>
<text transform="translate(83.53 747.80) rotate(0.08) scale(1 1.045)" font-size="11.9" text-anchor="end" fill="#000" font-weight="normal"  stroke="#000" stroke-width="0.2">AS:</text>
<text transform="translate(101.90 766.10) rotate(0.08) scale(1 1.045)" font-size="11.8" text-anchor="middle" fill="#284a8c" font-weight="normal"  stroke="#284a8c" stroke-width="0.2">n.d.</text>
<text transform="translate(146.07 766.10) rotate(0.08) scale(1 1.045)" font-size="11.8" text-anchor="start" fill="#284a8c" font-weight="normal" letter-spacing="0.4" stroke="#284a8c" stroke-width="0.2">0.10%</text>
<text transform="translate(224.60 766.10) rotate(0.08) scale(1 1.045)" font-size="11.8" text-anchor="middle" fill="#284a8c" font-weight="normal"  stroke="#284a8c" stroke-width="0.2">n.d.</text>
<line x1="326.30" y1="549.18" x2="326.30" y2="713.20" stroke="#000" stroke-width="1.8" stroke-linecap="butt"/>
<line x1="321.70" y1="708.80" x2="326.30" y2="708.80" stroke="#000" stroke-width="1.4" stroke-linecap="butt"/>
<text transform="translate(316.70 712.80) rotate(0.08) scale(1 1.045)" font-size="11.9" text-anchor="end" fill="#000" font-weight="normal"  stroke="#000" stroke-width="0.2">0.0</text>
<line x1="321.70" y1="682.93" x2="326.30" y2="682.93" stroke="#000" stroke-width="1.4" stroke-linecap="butt"/>
<text transform="translate(316.70 686.93) rotate(0.08) scale(1 1.045)" font-size="11.9" text-anchor="end" fill="#000" font-weight="normal"  stroke="#000" stroke-width="0.2">0.1</text>
<line x1="321.70" y1="657.06" x2="326.30" y2="657.06" stroke="#000" stroke-width="1.4" stroke-linecap="butt"/>
<text transform="translate(316.70 661.06) rotate(0.08) scale(1 1.045)" font-size="11.9" text-anchor="end" fill="#000" font-weight="normal"  stroke="#000" stroke-width="0.2">0.2</text>
<line x1="321.70" y1="631.19" x2="326.30" y2="631.19" stroke="#000" stroke-width="1.4" stroke-linecap="butt"/>
<text transform="translate(316.70 635.19) rotate(0.08) scale(1 1.045)" font-size="11.9" text-anchor="end" fill="#000" font-weight="normal"  stroke="#000" stroke-width="0.2">0.3</text>
<line x1="321.70" y1="605.32" x2="326.30" y2="605.32" stroke="#000" stroke-width="1.4" stroke-linecap="butt"/>
<text transform="translate(316.70 609.32) rotate(0.08) scale(1 1.045)" font-size="11.9" text-anchor="end" fill="#000" font-weight="normal"  stroke="#000" stroke-width="0.2">0.4</text>
<line x1="321.70" y1="579.45" x2="326.30" y2="579.45" stroke="#000" stroke-width="1.4" stroke-linecap="butt"/>
<text transform="translate(316.70 583.45) rotate(0.08) scale(1 1.045)" font-size="11.9" text-anchor="end" fill="#000" font-weight="normal"  stroke="#000" stroke-width="0.2">0.5</text>
<line x1="321.70" y1="553.58" x2="326.30" y2="553.58" stroke="#000" stroke-width="1.4" stroke-linecap="butt"/>
<text transform="translate(316.70 557.58) rotate(0.08) scale(1 1.045)" font-size="11.9" text-anchor="end" fill="#000" font-weight="normal"  stroke="#000" stroke-width="0.2">0.6</text>
<line x1="325.40" y1="708.80" x2="509.30" y2="708.80" stroke="#000" stroke-width="1.8" stroke-linecap="butt"/>
<line x1="387.30" y1="708.80" x2="387.30" y2="713.20" stroke="#000" stroke-width="1.4" stroke-linecap="butt"/>
<line x1="448.30" y1="708.80" x2="448.30" y2="713.20" stroke="#000" stroke-width="1.4" stroke-linecap="butt"/>
<text transform="translate(291.40,628.89) rotate(-90) scale(0.645,1)" font-size="16" text-anchor="middle" stroke="#000" stroke-width="0.45">Variant allele freqency</text>
<text transform="translate(356.90 729.00) rotate(0.08) scale(1 1.045)" font-size="12.5" text-anchor="middle" fill="#000" font-weight="normal"  stroke="#000" stroke-width="0.2">OG1</text>
<text transform="translate(418.50 729.00) rotate(0.08) scale(1 1.045)" font-size="12.5" text-anchor="middle" fill="#000" font-weight="normal"  stroke="#000" stroke-width="0.2">OG2</text>
<text transform="translate(478.80 729.00) rotate(0.08) scale(1 1.045)" font-size="12.5" text-anchor="middle" fill="#000" font-weight="normal"  stroke="#000" stroke-width="0.2">OG3</text>
<text transform="translate(417.70 542.50) rotate(0.08) scale(1 1.045)" font-size="15.2" text-anchor="middle" fill="#000" font-weight="normal"  stroke="#000" stroke-width="0.2">UPN 660</text>
<text transform="translate(418.00 561.85) rotate(0.08) scale(1 1.045)" font-size="12.6" text-anchor="middle" fill="#000" font-weight="normal" stroke-width="0.2"><tspan fill="#ab0a30" stroke="#ab0a30">R248P</tspan></text>
<polyline points="356.90,708.80 418.50,708.80 478.80,660.99" fill="none" stroke="#a80024" stroke-width="1.7"/>
<line x1="356.90" y1="709.83" x2="356.90" y2="707.77" stroke="#a80024" stroke-width="1.3" stroke-linecap="butt"/>
<line x1="354.30" y1="709.83" x2="359.50" y2="709.83" stroke="#a80024" stroke-width="1.3" stroke-linecap="butt"/>
<line x1="354.30" y1="707.77" x2="359.50" y2="707.77" stroke="#a80024" stroke-width="1.3" stroke-linecap="butt"/>
<rect x="354.40" y="706.30" width="5" height="5" fill="#a80024"/>
<line x1="418.50" y1="709.83" x2="418.50" y2="702.31" stroke="#a80024" stroke-width="1.3" stroke-linecap="butt"/>
<line x1="415.90" y1="709.83" x2="421.10" y2="709.83" stroke="#a80024" stroke-width="1.3" stroke-linecap="butt"/>
<line x1="415.90" y1="702.31" x2="421.10" y2="702.31" stroke="#a80024" stroke-width="1.3" stroke-linecap="butt"/>
<rect x="416.00" y="706.30" width="5" height="5" fill="#a80024"/>
<line x1="478.80" y1="664.51" x2="478.80" y2="655.61" stroke="#a80024" stroke-width="1.3" stroke-linecap="butt"/>
<line x1="476.20" y1="664.51" x2="481.40" y2="664.51" stroke="#a80024" stroke-width="1.3" stroke-linecap="butt"/>
<line x1="476.20" y1="655.61" x2="481.40" y2="655.61" stroke="#a80024" stroke-width="1.3" stroke-linecap="butt"/>
<rect x="476.30" y="658.49" width="5" height="5" fill="#a80024"/>
<polyline points="345.00,739.20 337.30,742.90 345.00,746.60" fill="none" stroke="#ab0a30" stroke-width="0.95" stroke-linejoin="round"/>
<text x="337.30" y="747.50" font-size="11.8" fill="none">&lt;</text>
<text transform="translate(348.74 747.50) rotate(0.08) scale(1 1.045)" font-size="11.8" text-anchor="start" fill="#ab0a30" font-weight="normal" letter-spacing="0.4" stroke="#ab0a30" stroke-width="0.2">0.1%</text>
<text transform="translate(400.77 747.50) rotate(0.08) scale(1 1.045)" font-size="11.8" text-anchor="start" fill="#ab0a30" font-weight="normal" letter-spacing="0.4" stroke="#ab0a30" stroke-width="0.2">0.09%</text>
<text transform="translate(478.80 747.50) rotate(0.08) scale(1 1.045)" font-size="11.8" text-anchor="middle" fill="#ab0a30" font-weight="normal"  stroke="#ab0a30" stroke-width="0.2">n.d.</text>
<text transform="translate(327.69 747.50) rotate(0.08) scale(1 1.045)" font-size="11.9" text-anchor="end" fill="#000" font-weight="normal"  stroke="#000" stroke-width="0.2">AS:</text>
<line x1="71.10" y1="798.70" x2="71.10" y2="962.75" stroke="#000" stroke-width="1.8" stroke-linecap="butt"/>
<line x1="66.50" y1="958.35" x2="71.10" y2="958.35" stroke="#000" stroke-width="1.4" stroke-linecap="butt"/>
<text transform="translate(61.50 962.35) rotate(0.08) scale(1 1.045)" font-size="11.9" text-anchor="end" fill="#000" font-weight="normal"  stroke="#000" stroke-width="0.2">0.0</text>
<line x1="66.50" y1="932.48" x2="71.10" y2="932.48" stroke="#000" stroke-width="1.4" stroke-linecap="butt"/>
<text transform="translate(61.50 936.48) rotate(0.08) scale(1 1.045)" font-size="11.9" text-anchor="end" fill="#000" font-weight="normal"  stroke="#000" stroke-width="0.2">0.1</text>
<line x1="66.50" y1="906.60" x2="71.10" y2="906.60" stroke="#000" stroke-width="1.4" stroke-linecap="butt"/>
<text transform="translate(61.50 910.60) rotate(0.08) scale(1 1.045)" font-size="11.9" text-anchor="end" fill="#000" font-weight="normal"  stroke="#000" stroke-width="0.2">0.2</text>
<line x1="66.50" y1="880.73" x2="71.10" y2="880.73" stroke="#000" stroke-width="1.4" stroke-linecap="butt"/>
<text transform="translate(61.50 884.73) rotate(0.08) scale(1 1.045)" font-size="11.9" text-anchor="end" fill="#000" font-weight="normal"  stroke="#000" stroke-width="0.2">0.3</text>
<line x1="66.50" y1="854.85" x2="71.10" y2="854.85" stroke="#000" stroke-width="1.4" stroke-linecap="butt"/>
<text transform="translate(61.50 858.85) rotate(0.08) scale(1 1.045)" font-size="11.9" text-anchor="end" fill="#000" font-weight="normal"  stroke="#000" stroke-width="0.2">0.4</text>
<line x1="66.50" y1="828.98" x2="71.10" y2="828.98" stroke="#000" stroke-width="1.4" stroke-linecap="butt"/>
<text transform="translate(61.50 832.98) rotate(0.08) scale(1 1.045)" font-size="11.9" text-anchor="end" fill="#000" font-weight="normal"  stroke="#000" stroke-width="0.2">0.5</text>
<line x1="66.50" y1="803.10" x2="71.10" y2="803.10" stroke="#000" stroke-width="1.4" stroke-linecap="butt"/>
<text transform="translate(61.50 807.10) rotate(0.08) scale(1 1.045)" font-size="11.9" text-anchor="end" fill="#000" font-weight="normal"  stroke="#000" stroke-width="0.2">0.6</text>
<line x1="70.20" y1="958.35" x2="254.10" y2="958.35" stroke="#000" stroke-width="1.8" stroke-linecap="butt"/>
<line x1="132.10" y1="958.35" x2="132.10" y2="962.75" stroke="#000" stroke-width="1.4" stroke-linecap="butt"/>
<line x1="193.10" y1="958.35" x2="193.10" y2="962.75" stroke="#000" stroke-width="1.4" stroke-linecap="butt"/>
<text transform="translate(36.20,878.43) rotate(-90) scale(0.645,1)" font-size="16" text-anchor="middle" stroke="#000" stroke-width="0.45">Variant allele freqency</text>
<text transform="translate(100.90 978.50) rotate(0.08) scale(1 1.045)" font-size="12.5" text-anchor="middle" fill="#000" font-weight="normal"  stroke="#000" stroke-width="0.2">OG1</text>
<text transform="translate(162.60 978.50) rotate(0.08) scale(1 1.045)" font-size="12.5" text-anchor="middle" fill="#000" font-weight="normal"  stroke="#000" stroke-width="0.2">OG2</text>
<text transform="translate(224.10 978.50) rotate(0.08) scale(1 1.045)" font-size="12.5" text-anchor="middle" fill="#000" font-weight="normal"  stroke="#000" stroke-width="0.2">OG3</text>
<text transform="translate(152.90 796.30) rotate(0.08) scale(1 1.045)" font-size="15.2" text-anchor="middle" fill="#000" font-weight="normal"  stroke="#000" stroke-width="0.2">UPN 685</text>
<text transform="translate(152.90 815.60) rotate(0.08) scale(1 1.045)" font-size="12.6" text-anchor="middle" fill="#000" font-weight="normal" stroke-width="0.2"><tspan fill="#ab0a30" stroke="#ab0a30">G245S,</tspan><tspan fill="#284a8c" stroke="#284a8c"> R196*,</tspan><tspan fill="#5aa83a" stroke="#5aa83a"> R248Q</tspan></text>
<polyline points="100.90,958.35 162.60,958.35 224.10,837.82" fill="none" stroke="#a80024" stroke-width="1.7"/>
<line x1="100.90" y1="959.38" x2="100.90" y2="957.32" stroke="#a80024" stroke-width="1.3" stroke-linecap="butt"/>
<line x1="98.30" y1="959.38" x2="103.50" y2="959.38" stroke="#a80024" stroke-width="1.3" stroke-linecap="butt"/>
<line x1="98.30" y1="957.32" x2="103.50" y2="957.32" stroke="#a80024" stroke-width="1.3" stroke-linecap="butt"/>
<rect x="98.40" y="955.85" width="5" height="5" fill="#a80024"/>
<line x1="162.60" y1="959.38" x2="162.60" y2="957.32" stroke="#a80024" stroke-width="1.3" stroke-linecap="butt"/>
<line x1="160.00" y1="959.38" x2="165.20" y2="959.38" stroke="#a80024" stroke-width="1.3" stroke-linecap="butt"/>
<line x1="160.00" y1="957.32" x2="165.20" y2="957.32" stroke="#a80024" stroke-width="1.3" stroke-linecap="butt"/>
<rect x="160.10" y="955.85" width="5" height="5" fill="#a80024"/>
<line x1="224.10" y1="846.23" x2="224.10" y2="829.62" stroke="#a80024" stroke-width="1.3" stroke-linecap="butt"/>
<line x1="221.50" y1="846.23" x2="226.70" y2="846.23" stroke="#a80024" stroke-width="1.3" stroke-linecap="butt"/>
<line x1="221.50" y1="829.62" x2="226.70" y2="829.62" stroke="#a80024" stroke-width="1.3" stroke-linecap="butt"/>
<rect x="221.60" y="835.32" width="5" height="5" fill="#a80024"/>
<polyline points="100.90,958.35 162.60,958.35 224.10,940.83" fill="none" stroke="#55a02d" stroke-width="1.7"/>
<line x1="100.90" y1="961.58" x2="100.90" y2="955.12" stroke="#55a02d" stroke-width="1.3" stroke-linecap="butt"/>
<line x1="98.30" y1="961.58" x2="103.50" y2="961.58" stroke="#55a02d" stroke-width="1.3" stroke-linecap="butt"/>
<line x1="98.30" y1="955.12" x2="103.50" y2="955.12" stroke="#55a02d" stroke-width="1.3" stroke-linecap="butt"/>
<rect x="98.10" y="955.55" width="5.6" height="5.6" fill="#55a02d"/>
<line x1="162.60" y1="961.58" x2="162.60" y2="955.12" stroke="#55a02d" stroke-width="1.3" stroke-linecap="butt"/>
<line x1="160.00" y1="961.58" x2="165.20" y2="961.58" stroke="#55a02d" stroke-width="1.3" stroke-linecap="butt"/>
<line x1="160.00" y1="955.12" x2="165.20" y2="955.12" stroke="#55a02d" stroke-width="1.3" stroke-linecap="butt"/>
<rect x="159.80" y="955.55" width="5.6" height="5.6" fill="#55a02d"/>
<line x1="224.10" y1="952.14" x2="224.10" y2="935.63" stroke="#55a02d" stroke-width="1.3" stroke-linecap="butt"/>
<line x1="221.50" y1="952.14" x2="226.70" y2="952.14" stroke="#55a02d" stroke-width="1.3" stroke-linecap="butt"/>
<line x1="221.50" y1="935.63" x2="226.70" y2="935.63" stroke="#55a02d" stroke-width="1.3" stroke-linecap="butt"/>
<rect x="221.60" y="938.33" width="5" height="5" fill="#55a02d"/>
<polyline points="100.90,958.35 162.60,958.35 224.10,901.79" fill="none" stroke="#15347c" stroke-width="1.5"/>
<line x1="100.90" y1="960.55" x2="100.90" y2="956.15" stroke="#15347c" stroke-width="1.3" stroke-linecap="butt"/>
<line x1="98.30" y1="960.55" x2="103.50" y2="960.55" stroke="#15347c" stroke-width="1.3" stroke-linecap="butt"/>
<line x1="98.30" y1="956.15" x2="103.50" y2="956.15" stroke="#15347c" stroke-width="1.3" stroke-linecap="butt"/>
<rect x="99.20" y="956.65" width="3.4" height="3.4" fill="#15347c"/>
<line x1="162.60" y1="960.55" x2="162.60" y2="956.15" stroke="#15347c" stroke-width="1.3" stroke-linecap="butt"/>
<line x1="160.00" y1="960.55" x2="165.20" y2="960.55" stroke="#15347c" stroke-width="1.3" stroke-linecap="butt"/>
<line x1="160.00" y1="956.15" x2="165.20" y2="956.15" stroke="#15347c" stroke-width="1.3" stroke-linecap="butt"/>
<rect x="160.90" y="956.65" width="3.4" height="3.4" fill="#15347c"/>
<line x1="224.10" y1="913.20" x2="224.10" y2="891.33" stroke="#15347c" stroke-width="1.3" stroke-linecap="butt"/>
<line x1="221.50" y1="913.20" x2="226.70" y2="913.20" stroke="#15347c" stroke-width="1.3" stroke-linecap="butt"/>
<line x1="221.50" y1="891.33" x2="226.70" y2="891.33" stroke="#15347c" stroke-width="1.3" stroke-linecap="butt"/>
<rect x="223.00" y="900.69" width="2.2" height="2.2" fill="#15347c"/>
<polyline points="89.00,988.80 81.30,992.50 89.00,996.20" fill="none" stroke="#ab0a30" stroke-width="0.95" stroke-linejoin="round"/>
<text x="81.30" y="997.10" font-size="11.8" fill="none">&lt;</text>
<text transform="translate(92.74 997.10) rotate(0.08) scale(1 1.045)" font-size="11.8" text-anchor="start" fill="#ab0a30" font-weight="normal" letter-spacing="0.4" stroke="#ab0a30" stroke-width="0.2">0.1%</text>
<polyline points="150.70,988.80 143.00,992.50 150.70,996.20" fill="none" stroke="#ab0a30" stroke-width="0.95" stroke-linejoin="round"/>
<text x="143.00" y="997.10" font-size="11.8" fill="none">&lt;</text>
<text transform="translate(154.44 997.10) rotate(0.08) scale(1 1.045)" font-size="11.8" text-anchor="start" fill="#ab0a30" font-weight="normal" letter-spacing="0.4" stroke="#ab0a30" stroke-width="0.2">0.1%</text>
<text transform="translate(224.10 997.10) rotate(0.08) scale(1 1.045)" font-size="11.8" text-anchor="middle" fill="#ab0a30" font-weight="normal"  stroke="#ab0a30" stroke-width="0.2">n.d.</text>
<text transform="translate(71.69 997.10) rotate(0.08) scale(1 1.045)" font-size="11.9" text-anchor="end" fill="#000" font-weight="normal"  stroke="#000" stroke-width="0.2">AS:</text>
<polyline points="89.00,1007.30 81.30,1011.00 89.00,1014.70" fill="none" stroke="#284a8c" stroke-width="0.95" stroke-linejoin="round"/>
<text x="81.30" y="1015.60" font-size="11.8" fill="none">&lt;</text>
<text transform="translate(92.74 1015.60) rotate(0.08) scale(1 1.045)" font-size="11.8" text-anchor="start" fill="#284a8c" font-weight="normal" letter-spacing="0.4" stroke="#284a8c" stroke-width="0.2">0.1%</text>
<polyline points="150.70,1007.30 143.00,1011.00 150.70,1014.70" fill="none" stroke="#284a8c" stroke-width="0.95" stroke-linejoin="round"/>
<text x="143.00" y="1015.60" font-size="11.8" fill="none">&lt;</text>
<text transform="translate(154.44 1015.60) rotate(0.08) scale(1 1.045)" font-size="11.8" text-anchor="start" fill="#284a8c" font-weight="normal" letter-spacing="0.4" stroke="#284a8c" stroke-width="0.2">0.1%</text>
<text transform="translate(224.10 1015.60) rotate(0.08) scale(1 1.045)" font-size="11.8" text-anchor="middle" fill="#284a8c" font-weight="normal"  stroke="#284a8c" stroke-width="0.2">n.d.</text>
<polyline points="89.00,1025.80 81.30,1029.50 89.00,1033.20" fill="none" stroke="#5aa83a" stroke-width="0.95" stroke-linejoin="round"/>
<text x="81.30" y="1034.10" font-size="11.8" fill="none">&lt;</text>
<text transform="translate(92.74 1034.10) rotate(0.08) scale(1 1.045)" font-size="11.8" text-anchor="start" fill="#5aa83a" font-weight="normal" letter-spacing="0.4" stroke="#5aa83a" stroke-width="0.2">0.2%</text>
<polyline points="150.70,1025.80 143.00,1029.50 150.70,1033.20" fill="none" stroke="#5aa83a" stroke-width="0.95" stroke-linejoin="round"/>
<text x="143.00" y="1034.10" font-size="11.8" fill="none">&lt;</text>
<text transform="translate(154.44 1034.10) rotate(0.08) scale(1 1.045)" font-size="11.8" text-anchor="start" fill="#5aa83a" font-weight="normal" letter-spacing="0.4" stroke="#5aa83a" stroke-width="0.2">0.1%</text>
<text transform="translate(224.10 1034.10) rotate(0.08) scale(1 1.045)" font-size="11.8" text-anchor="middle" fill="#5aa83a" font-weight="normal"  stroke="#5aa83a" stroke-width="0.2">n.d.</text>
<line x1="326.30" y1="798.72" x2="326.30" y2="962.80" stroke="#000" stroke-width="1.8" stroke-linecap="butt"/>
<line x1="321.70" y1="958.40" x2="326.30" y2="958.40" stroke="#000" stroke-width="1.4" stroke-linecap="butt"/>
<text transform="translate(316.70 962.40) rotate(0.08) scale(1 1.045)" font-size="11.9" text-anchor="end" fill="#000" font-weight="normal"  stroke="#000" stroke-width="0.2">0.0</text>
<line x1="321.70" y1="932.52" x2="326.30" y2="932.52" stroke="#000" stroke-width="1.4" stroke-linecap="butt"/>
<text transform="translate(316.70 936.52) rotate(0.08) scale(1 1.045)" font-size="11.9" text-anchor="end" fill="#000" font-weight="normal"  stroke="#000" stroke-width="0.2">0.1</text>
<line x1="321.70" y1="906.64" x2="326.30" y2="906.64" stroke="#000" stroke-width="1.4" stroke-linecap="butt"/>
<text transform="translate(316.70 910.64) rotate(0.08) scale(1 1.045)" font-size="11.9" text-anchor="end" fill="#000" font-weight="normal"  stroke="#000" stroke-width="0.2">0.2</text>
<line x1="321.70" y1="880.76" x2="326.30" y2="880.76" stroke="#000" stroke-width="1.4" stroke-linecap="butt"/>
<text transform="translate(316.70 884.76) rotate(0.08) scale(1 1.045)" font-size="11.9" text-anchor="end" fill="#000" font-weight="normal"  stroke="#000" stroke-width="0.2">0.3</text>
<line x1="321.70" y1="854.88" x2="326.30" y2="854.88" stroke="#000" stroke-width="1.4" stroke-linecap="butt"/>
<text transform="translate(316.70 858.88) rotate(0.08) scale(1 1.045)" font-size="11.9" text-anchor="end" fill="#000" font-weight="normal"  stroke="#000" stroke-width="0.2">0.4</text>
<line x1="321.70" y1="829.00" x2="326.30" y2="829.00" stroke="#000" stroke-width="1.4" stroke-linecap="butt"/>
<text transform="translate(316.70 833.00) rotate(0.08) scale(1 1.045)" font-size="11.9" text-anchor="end" fill="#000" font-weight="normal"  stroke="#000" stroke-width="0.2">0.5</text>
<line x1="321.70" y1="803.12" x2="326.30" y2="803.12" stroke="#000" stroke-width="1.4" stroke-linecap="butt"/>
<text transform="translate(316.70 807.12) rotate(0.08) scale(1 1.045)" font-size="11.9" text-anchor="end" fill="#000" font-weight="normal"  stroke="#000" stroke-width="0.2">0.6</text>
<line x1="325.40" y1="958.40" x2="509.30" y2="958.40" stroke="#000" stroke-width="1.8" stroke-linecap="butt"/>
<line x1="387.30" y1="958.40" x2="387.30" y2="962.80" stroke="#000" stroke-width="1.4" stroke-linecap="butt"/>
<line x1="448.30" y1="958.40" x2="448.30" y2="962.80" stroke="#000" stroke-width="1.4" stroke-linecap="butt"/>
<text transform="translate(291.40,878.46) rotate(-90) scale(0.645,1)" font-size="16" text-anchor="middle" stroke="#000" stroke-width="0.45">Variant allele freqency</text>
<text transform="translate(356.80 978.50) rotate(0.08) scale(1 1.045)" font-size="12.5" text-anchor="middle" fill="#000" font-weight="normal"  stroke="#000" stroke-width="0.2">OG1</text>
<text transform="translate(417.60 978.50) rotate(0.08) scale(1 1.045)" font-size="12.5" text-anchor="middle" fill="#000" font-weight="normal"  stroke="#000" stroke-width="0.2">OG2</text>
<text transform="translate(478.80 978.50) rotate(0.08) scale(1 1.045)" font-size="12.5" text-anchor="middle" fill="#000" font-weight="normal"  stroke="#000" stroke-width="0.2">OG3</text>
<text transform="translate(417.70 796.30) rotate(0.08) scale(1 1.045)" font-size="15.2" text-anchor="middle" fill="#000" font-weight="normal"  stroke="#000" stroke-width="0.2">UPN 735</text>
<text transform="translate(418.00 815.60) rotate(0.08) scale(1 1.045)" font-size="12.6" text-anchor="middle" fill="#000" font-weight="normal" stroke-width="0.2"><tspan fill="#ab0a30" stroke="#ab0a30">R248Q</tspan></text>
<polyline points="417.60,941.27 478.80,958.40" fill="none" stroke="#a80024" stroke-width="1.7"/>
<line x1="417.60" y1="950.20" x2="417.60" y2="930.63" stroke="#a80024" stroke-width="1.3" stroke-linecap="butt"/>
<line x1="415.00" y1="950.20" x2="420.20" y2="950.20" stroke="#a80024" stroke-width="1.3" stroke-linecap="butt"/>
<line x1="415.00" y1="930.63" x2="420.20" y2="930.63" stroke="#a80024" stroke-width="1.3" stroke-linecap="butt"/>
<rect x="415.10" y="938.77" width="5" height="5" fill="#a80024"/>
<line x1="478.80" y1="960.99" x2="478.80" y2="951.93" stroke="#a80024" stroke-width="1.3" stroke-linecap="butt"/>
<line x1="476.20" y1="960.99" x2="481.40" y2="960.99" stroke="#a80024" stroke-width="1.3" stroke-linecap="butt"/>
<line x1="476.20" y1="951.93" x2="481.40" y2="951.93" stroke="#a80024" stroke-width="1.3" stroke-linecap="butt"/>
<rect x="476.30" y="955.90" width="5" height="5" fill="#a80024"/>
<text transform="translate(368.90 950.20) rotate(0.08) scale(1 1.045)" font-size="11.8" text-anchor="middle" fill="#000" font-weight="normal"  stroke="#000" stroke-width="0.2">n/a</text>
<text transform="translate(356.80 997.10) rotate(0.08) scale(1 1.045)" font-size="11.8" text-anchor="middle" fill="#ab0a30" font-weight="normal"  stroke="#ab0a30" stroke-width="0.2">n/a</text>
<text transform="translate(417.60 997.10) rotate(0.08) scale(1 1.045)" font-size="11.8" text-anchor="middle" fill="#ab0a30" font-weight="normal"  stroke="#ab0a30" stroke-width="0.2">n.d.</text>
<polyline points="466.90,988.80 459.20,992.50 466.90,996.20" fill="none" stroke="#ab0a30" stroke-width="0.95" stroke-linejoin="round"/>
<text x="459.20" y="997.10" font-size="11.8" fill="none">&lt;</text>
<text transform="translate(470.64 997.10) rotate(0.08) scale(1 1.045)" font-size="11.8" text-anchor="start" fill="#ab0a30" font-weight="normal" letter-spacing="0.4" stroke="#ab0a30" stroke-width="0.2">0.1%</text>
<text transform="translate(340.07 997.10) rotate(0.08) scale(1 1.045)" font-size="11.9" text-anchor="end" fill="#000" font-weight="normal"  stroke="#000" stroke-width="0.2">AS:</text>
<text transform="translate(11.00 26.40) rotate(0.08) scale(1 1.045)" font-size="18.3" text-anchor="start" fill="#000" font-weight="bold" stroke="#000" stroke-width="0.4">A</text>
<text transform="translate(266.50 23.50) rotate(0.08) scale(1 1.0)" font-size="14.5" text-anchor="middle" fill="#000" font-weight="bold" stroke="#000" stroke-width="0.3">NT5C2</text>
<text transform="translate(11.00 523.80) rotate(0.08) scale(1 1.045)" font-size="18.3" text-anchor="start" fill="#000" font-weight="bold" stroke="#000" stroke-width="0.4">B</text>
<text transform="translate(266.50 520.80) rotate(0.08) scale(1 1.0)" font-size="14.5" text-anchor="middle" fill="#000" font-weight="bold" stroke="#000" stroke-width="0.3">TP53</text>
</svg>
</body></html>
